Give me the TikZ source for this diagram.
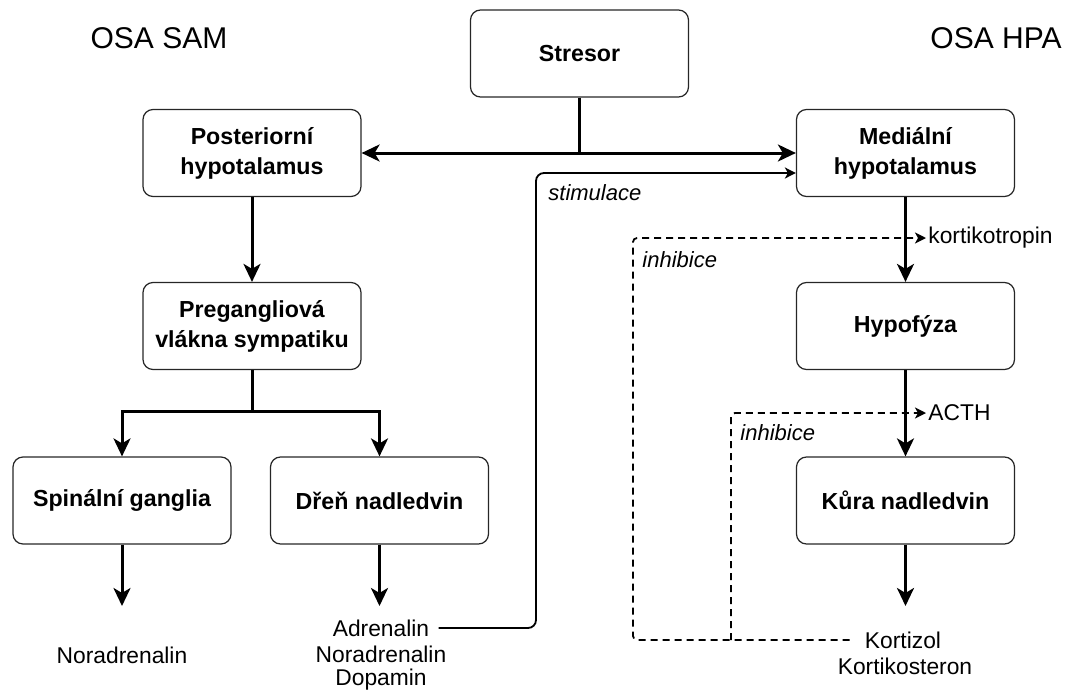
\documentclass[tikz,border=0pt]{standalone}
\usepackage{fontspec}
\setmainfont{Liberation Sans}
\usetikzlibrary{arrows.meta}
\begin{document}
\begin{tikzpicture}[x=0.5pt,y=-0.5pt,
  box/.style={draw=black!85,line width=0.6pt,rounded corners=5pt,minimum width=109pt,minimum height=43.5pt,align=center,font=\fontsize{11.6}{15}\selectfont\bfseries,inner sep=2pt},
  txt/.style={font=\fontsize{11.4}{13}\selectfont,inner sep=1pt},
  itxt/.style={font=\fontsize{11}{13}\selectfont\itshape,inner sep=1pt},
  title/.style={font=\fontsize{15}{18}\selectfont,inner sep=1pt},
  arr/.style={line width=1.5pt,-{Stealth[length=9pt,width=8.5pt,inset=2.5pt]}},
  thinarr/.style={line width=0.9pt,-{Stealth[length=5.5pt,width=5.5pt,inset=1.5pt]}},
  dasharr/.style={line width=0.9pt,dash pattern=on 3.5pt off 2.5pt,rounded corners=2pt,-{Stealth[length=5.5pt,width=5.5pt,inset=1.5pt]}}]
\useasboundingbox (0,0) rectangle (1067,691);

\node[title] (sam) at (159,38) {OSA SAM};
\node[title] (hpa) at (996,38) {OSA HPA};

\node[box] (stres) at (579.5,53.5) {Stresor};
\node[box] (post) at (252,153) {Posteriorní\\hypotalamus};
\node[box] (med) at (905.5,153) {Mediální\\hypotalamus};
\node[box] (preg) at (252,326) {Pregangliová\\vlákna sympatiku};
\node[box] (hyp) at (905.5,326) {Hypofýza};
\node[box] (spin) at (122,500.5) {Spinální ganglia};
\node[box] (dren) at (379.5,500.5) {Dřeň nadledvin};
\node[box] (kura) at (905.5,500.5) {Kůra nadledvin};

\node[txt] (nor1) at (122,655) {Noradrenalin};
\node[txt] (adr) at (381,628) {Adrenalin};
\node[txt] (nor2) at (381,654) {Noradrenalin};
\node[txt] (dop) at (381,680) {Dopamin};
\node[txt] (kzl) at (903,640) {Kortizol};
\node[txt] (kst) at (905,666) {Kortikosteron};
\node[txt,anchor=west] (ktr) at (926,238) {kortikotropin};
\node[txt,anchor=west] (acth) at (926,413) {ACTH};
\node[itxt,anchor=west] (stim) at (546,193) {stimulace};
\node[itxt,anchor=west] (inh1) at (640,260) {inhibice};
\node[itxt,anchor=west] (inh2) at (738,433) {inhibice};

% stressor split
\coordinate (sj) at (579.5,153);
\draw[line width=1.5pt] (stres.south) -- (sj);
\draw[line width=1.5pt,{Stealth[length=9pt,width=8.5pt,inset=2.5pt]}-{Stealth[length=9pt,width=8.5pt,inset=2.5pt]}] (post.east) -- (med.west);

% SAM axis
\draw[arr] (post.south) -- (preg.north);
\coordinate (br) at (252,411);
\draw[arr] (preg.south) -- (br) -| (spin.north);
\draw[arr] (br) -| (dren.north);
\coordinate (so) at (122,606);
\coordinate (do) at (379.5,606);
\draw[arr] (spin.south) -- (so);
\draw[arr] (dren.south) -- (do);

% stimulation
\coordinate (st) at (536,173);
\draw[thinarr,rounded corners=4pt,shorten <=3.5pt] (adr.east) -| (st) -- (st -| med.west);

% HPA axis
\draw[arr] (med.south) -- (hyp.north);
\draw[arr] (hyp.south) -- (kura.north);
\coordinate (ko) at (905.5,606);
\draw[arr] (kura.south) -- (ko);

% inhibition
\coordinate (d1) at (633,640);
\coordinate (d2) at (731,640);
\draw[dasharr,shorten <=6.5pt] (kzl.west) -- (d1) -- (633,238) -- (ktr.west);
\draw[dasharr] (d2) -- (731,413) -- (acth.west);
\end{tikzpicture}
\end{document}
